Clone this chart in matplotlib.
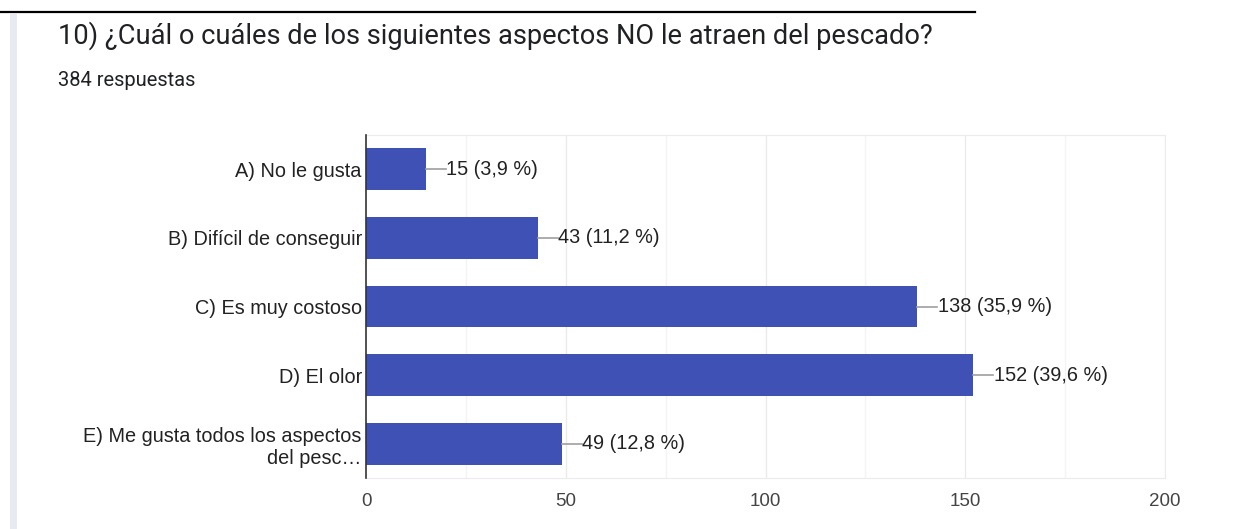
import matplotlib.pyplot as plt
from matplotlib.lines import Line2D
from matplotlib.patches import Rectangle

categories = ["A) No le gusta", "B) Difícil de conseguir", "C) Es muy costoso",
              "D) El olor", "E) Me gusta todos los aspectos\ndel pesc\u2026"]
counts = [15, 43, 138, 152, 49]
percents = ["3,9", "11,2", "35,9", "39,6", "12,8"]
xticks = [0, 50, 100, 150, 200]

title = "10) ¿Cuál o cuáles de los siguientes aspectos NO le atraen del pescado?"
subtitle = "384 respuestas"

W, H = 1238, 529
fig = plt.figure(figsize=(W / 100, H / 100), dpi=100)
fig.patch.set_facecolor("white")

# page decoration: rule at the top, card edge on the left
fig.add_artist(Line2D([0, 975 / W], [1 - 12 / H, 1 - 12 / H], color="black", lw=1.6))
fig.add_artist(Rectangle((10 / W, 0), 7 / W, 1 - 14 / H, color="#e8eaf2", lw=0))

fig.text(58 / W, 1 - 36 / H, title, fontsize=19.6, family="Roboto", color="#202124", va="center")
fig.text(58 / W, 1 - 80 / H, subtitle, fontsize=14.5, family="Roboto", color="#202124", va="center")

ax = fig.add_axes([366 / W, 1 - 478 / H, (1165 - 366) / W, (478 - 135) / H])
ypos = list(range(len(categories)))
ax.barh(ypos, counts, height=0.61, color="#3f51b5", zorder=3)
ax.set_xlim(0, 200)
ax.set_ylim(len(categories) - 0.5, -0.5)

# grid every 25
for v in range(25, 201, 25):
    ax.axvline(v, color="#ebebeb" if v % 50 == 0 else "#f4f4f4", lw=1, zorder=1)

for s in ["top", "right", "bottom"]:
    ax.spines[s].set_color("#ececec")
ax.spines["left"].set_color("#333333")
ax.spines["left"].set_linewidth(1.2)
ax.spines["left"].set_zorder(4)

ax.set_yticks(ypos)
ax.set_yticklabels(categories, fontsize=14.3, family="Liberation Sans", color="#222222")
ax.set_xticks(xticks)
ax.set_xticklabels([str(t) for t in xticks], fontsize=13.5, family="Liberation Sans", color="#444444")
ax.tick_params(length=0)
ax.tick_params(axis="x", pad=11)
ax.tick_params(axis="y", pad=3)

for y, c, p in zip(ypos, counts, percents):
    ax.plot([c, c + 5], [y, y], color="#9e9e9e", lw=1.2, zorder=3)
    ax.text(c + 5.1, y, f"{c} ({p} %)", va="center", ha="left", fontsize=14.3,
            family="Liberation Sans", color="#222222")

fig.savefig("out.png", dpi=100)
